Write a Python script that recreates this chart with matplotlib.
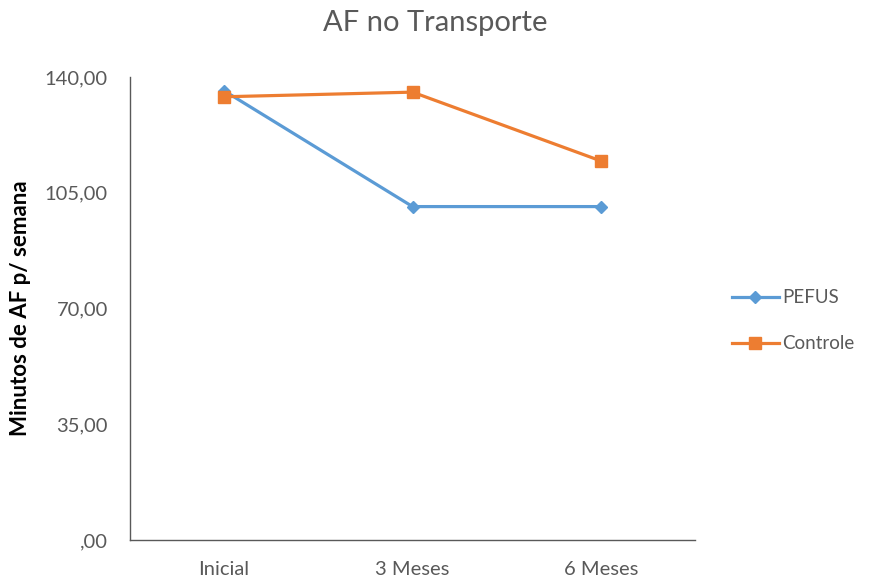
import matplotlib.pyplot as plt

plt.rcParams['font.family'] = ['Lato', 'DejaVu Sans']

categorias = ["Inicial", "3 Meses", "6 Meses"]
pefus = [135.8, 100.8, 100.8]
controle = [134.0, 135.4, 114.6]
yticks = [0, 35, 70, 105, 140]
ytick_labels = [",00", "35,00", "70,00", "105,00", "140,00"]

fig = plt.figure(figsize=(8.7, 5.81), dpi=100)
ax = fig.add_axes([0.1494, 0.0706, 0.6496, 0.797])

x = range(len(categorias))
ax.plot(x, pefus, color="#5B9BD5", lw=2.3, marker="D", ms=6, label="PEFUS")
ax.plot(x, controle, color="#ED7D31", lw=2.3, marker="s", ms=8, label="Controle")

ax.set_xlim(-0.5, 2.5)
ax.set_ylim(0, 140)
ax.set_xticks(list(x))
ax.set_xticklabels(categorias)
ax.set_yticks(yticks)
ax.set_yticklabels(ytick_labels)
ax.tick_params(length=0, labelsize=14.5, colors="#595959")
ax.tick_params(axis="y", pad=16)
ax.tick_params(axis="x", pad=15)

for s in ["top", "right"]:
    ax.spines[s].set_visible(False)
for s in ["left", "bottom"]:
    ax.spines[s].set_color("#595959")
    ax.spines[s].set_linewidth(1.0)

ax.set_ylabel("Minutos de AF p/ semana", fontsize=16, fontweight="bold", color="black", labelpad=10)
fig.suptitle("AF no Transporte", fontsize=21, color="#595959", x=0.5, y=0.982)

leg = ax.legend(loc="center left", bbox_to_anchor=(1.035, 0.473), frameon=False,
                fontsize=13.5, labelcolor="#595959", handlelength=2.5, handletextpad=0.2,
                labelspacing=1.55)

fig.savefig("out.png", dpi=100)
